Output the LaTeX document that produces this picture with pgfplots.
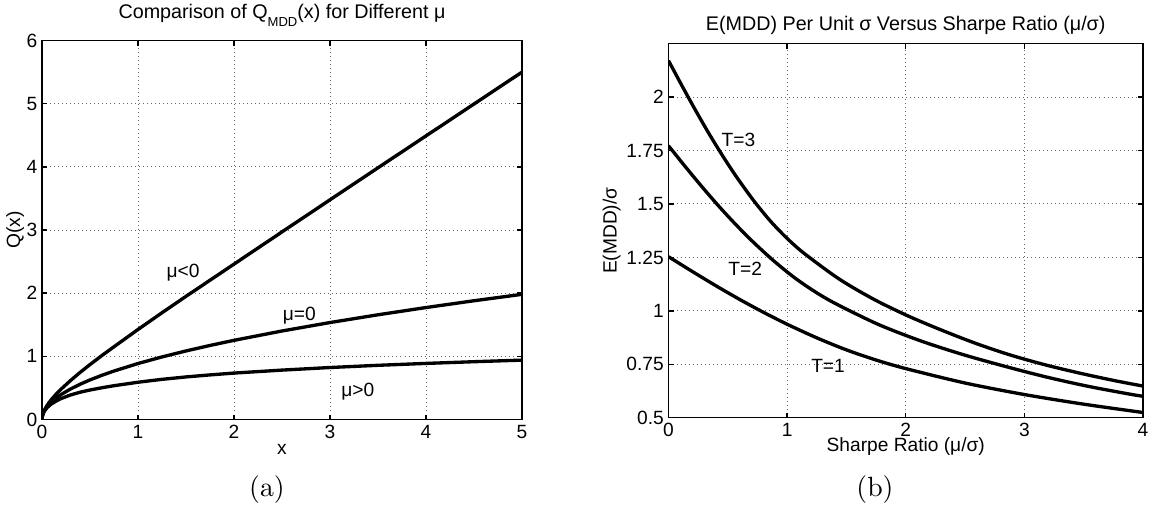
\documentclass[border=0pt]{standalone}
\usepackage{fontspec}
\usepackage{pgfplots}
\pgfplotsset{compat=1.18}
\newfontfamily\msans{Liberation Sans}
\newcommand\mfont{\msans\fontsize{6.9}{8.2}\selectfont}
\newcommand\tfont{\msans\fontsize{7.1}{8.5}\selectfont}

\pgfplotsset{
  mstyle/.style={
    scale only axis, anchor=south west,
    axis line style={line width=0.5pt},
    tick align=inside, tick pos=both, major tick length=1.8pt,
    every tick/.style={black, line width=0.5pt},
    xmajorgrids, ymajorgrids,
    major grid style={black!60, line width=0.35pt, dash pattern=on 0.35pt off 1.1pt},
    /pgf/number format/assume math mode=true,
    tick label style={font=\mfont},
    yticklabel style={inner sep=1.5pt},
    xticklabel style={inner sep=1.8pt},
    every axis x label/.style={at={(axis description cs:0.5,-0.078)}, anchor=center, font=\mfont},
  },
  curve/.style={black, line width=1.2pt},
}

\begin{document}
\begin{tikzpicture}
\path[use as bounding box] (0,0) rectangle (415.44pt,185.04pt);

% (a) Q(x) for the three drift cases
\begin{axis}[mstyle,
  at={(15.12pt,34.02pt)}, width=172.8pt, height=136.44pt,
  xmin=0, xmax=5, ymin=0, ymax=6,
  xtick={0,1,2,3,4,5}, ytick={0,1,2,3,4,5,6},
  xlabel={x}, ylabel={Q(x)},
  every axis y label/.style={at={(axis description cs:-0.056,0.5)}, rotate=90, anchor=center, font=\mfont},
  title={Comparison of Q\raisebox{-2.8pt}{\fontsize{4.7}{5.5}\selectfont MDD}(x) for Different μ},
  every axis title/.style={at={(axis description cs:0.5,1.0575)}, anchor=base, font=\tfont},
]
\addplot[curve] coordinates {(0,0) (0.002,0.0403) (0.01,0.0920) (0.025,0.149) (0.05,0.216) (0.075,0.272) (0.1,0.320) (0.15,0.406) (0.2,0.482) (0.3,0.621) (0.4,0.749) (0.5,0.870) (0.625,1.014) (0.75,1.152) (1,1.425) (1.25,1.69) (1.5,1.95) (1.75,2.205) (2,2.46) (2.5,2.97) (3,3.478) (3.5,3.985) (4,4.49) (4.5,4.995) (5,5.50)};
\addplot[curve] coordinates {(0,0) (0.002,0.0396) (0.01,0.0886) (0.025,0.1401) (0.05,0.1982) (0.075,0.2427) (0.1,0.2802) (0.15,0.3432) (0.2,0.3963) (0.3,0.4854) (0.4,0.5605) (0.5,0.6267) (0.625,0.7006) (0.75,0.7675) (1,0.8862) (1.25,0.9908) (1.5,1.0854) (1.75,1.1723) (2,1.2533) (2.5,1.4012) (3,1.5350) (3.5,1.6579) (4,1.7725) (4.5,1.8800) (5,1.9817)};
\addplot[curve] coordinates {(0,0) (0.002,0.0389) (0.01,0.0853) (0.025,0.1318) (0.05,0.1816) (0.075,0.2179) (0.1,0.248) (0.15,0.294) (0.2,0.332) (0.3,0.390) (0.4,0.433) (0.5,0.467) (0.625,0.503) (0.75,0.535) (1,0.590) (1.25,0.636) (1.5,0.674) (1.75,0.706) (2,0.735) (2.5,0.782) (3,0.823) (3.5,0.858) (4,0.888) (4.5,0.915) (5,0.940)};
\node[font=\mfont] at (axis cs:1.47,2.33) {μ<0};
\node[font=\mfont] at (axis cs:2.68,1.64) {μ=0};
\node[font=\mfont] at (axis cs:3.29,0.44) {μ>0};
\end{axis}

% (b) expected MDD per unit sigma
\begin{axis}[mstyle,
  at={(240.66pt,34.67pt)}, width=170.82pt, height=134.64pt,
  xmin=0, xmax=4, ymin=0.5, ymax=2.25,
  xtick={0,1,2,3,4}, ytick={0.5,0.75,1,1.25,1.5,1.75,2},
  yticklabels={0.5,0.75,1,1.25,1.5,1.75,2},
  xlabel={Sharpe Ratio (μ/σ)}, ylabel={E(MDD)/σ},
  every axis y label/.style={at={(axis description cs:-0.12,0.5)}, rotate=90, anchor=center, font=\mfont},
  title={E(MDD) Per Unit σ Versus Sharpe Ratio (μ/σ)},
  every axis title/.style={at={(axis description cs:0.5,1.0345)}, anchor=base, font=\tfont},
]
% T=1
\addplot[curve, smooth] coordinates {(0,1.2533) (0.1,1.2188) (0.2,1.1843) (0.4,1.1173) (0.6,1.0533) (0.8,0.9933) (1,0.9373) (1.25,0.8736) (1.5,0.8173) (1.75,0.7698) (2,0.7298) (2.5,0.6623) (3,0.6083) (3.5,0.5633) (4,0.5243)};
% T=2
\addplot[curve, smooth] coordinates {(0,1.7724) (0.0707,1.7236) (0.1414,1.6748) (0.2828,1.5801) (0.4243,1.4896) (0.5657,1.4047) (0.7071,1.3255) (0.8839,1.2355) (1.0607,1.1558) (1.2374,1.0887) (1.4142,1.0321) (1.7678,0.9366) (2.1213,0.8603) (2.4749,0.7966) (2.8284,0.7415) (3.1820,0.6908) (3.5355,0.6470) (3.8891,0.6102) (4,0.6003)};
% T=3
\addplot[curve, smooth] coordinates {(0,2.1708) (0.0577,2.1110) (0.1155,2.0513) (0.2309,1.9352) (0.3464,1.8244) (0.4619,1.7204) (0.5774,1.6235) (0.7217,1.5131) (0.8660,1.4156) (1.0104,1.3333) (1.1547,1.2640) (1.4434,1.1471) (1.7321,1.0536) (2.0207,0.9757) (2.3094,0.9081) (2.5981,0.8461) (2.8868,0.7924) (3.1754,0.7474) (3.4641,0.7088) (3.7528,0.6743) (4,0.6480)};
\node[font=\mfont] at (axis cs:0.59,1.80) {T=3};
\node[font=\mfont] at (axis cs:0.646,1.199) {T=2};
\node[font=\mfont] at (axis cs:1.345,0.744) {T=1};
\end{axis}

\node[font=\fontsize{10}{12}\selectfont] at (96.1pt,8.64pt) {(a)};
\node[font=\fontsize{10}{12}\selectfont] at (315pt,8.64pt) {(b)};
\end{tikzpicture}
\end{document}
